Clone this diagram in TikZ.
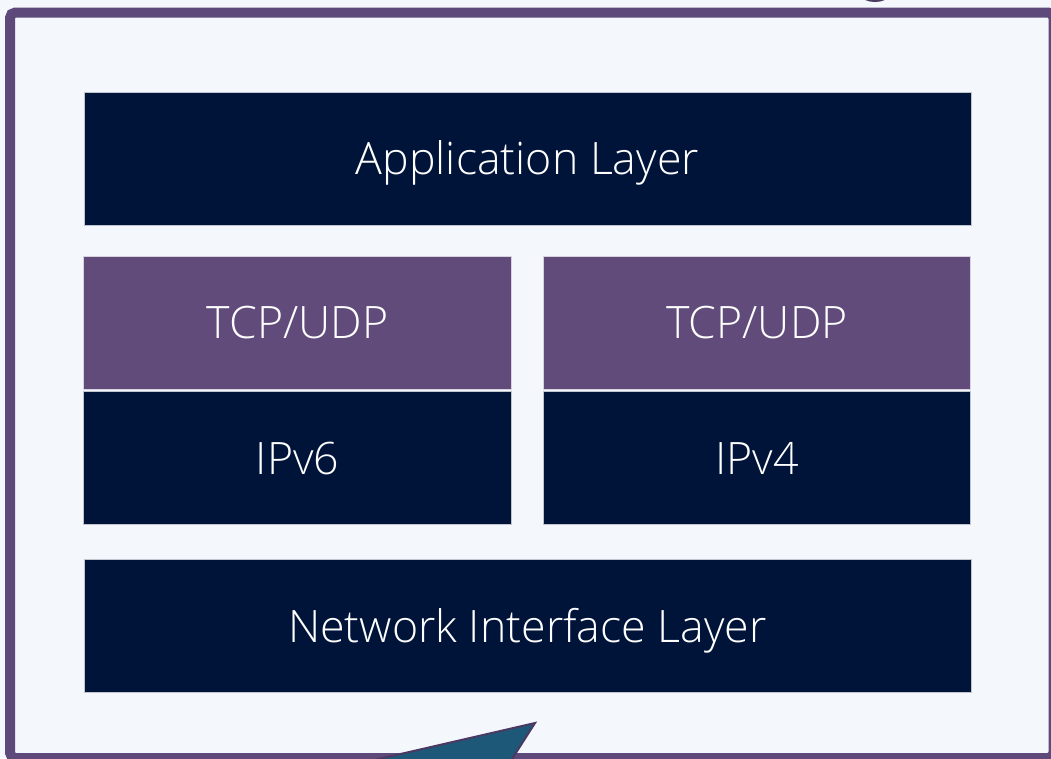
\documentclass[tikz,border=0pt]{standalone}
\usepackage{fontspec}
\setmainfont{Open Sans}[UprightFont=* Light]
\usetikzlibrary{positioning}

\definecolor{fond}{HTML}{F4F7FB}
\definecolor{cadre}{HTML}{5E4A7A}
\definecolor{marine}{HTML}{00143A}
\definecolor{violet}{HTML}{604B7B}
\definecolor{bulle}{HTML}{1E5878}
\definecolor{bord}{HTML}{4A3A63}

\tikzset{
  couche/.style={fill=marine, draw=white!75!marine, line width=0.6pt, text=white, inner sep=0pt,
    minimum height=99.75pt, text height=24pt, text depth=-3.8pt,
    font=\fontsize{33.5}{38}\selectfont},
  large/.style={minimum width=665.25pt},
  demi/.style={minimum width=320.5pt},
  transport/.style={fill=violet, draw=white!75!violet}
}

\begin{document}
\begin{tikzpicture}[x=0.75pt, y=-0.75pt]
  \useasboundingbox (0,0) rectangle (1051,758);

  % Fond et cadre
  \fill[fond] (0,0) rectangle (1051,758);
  \fill[cadre!80!black] (875,-4) ellipse (13 and 6);
  \draw[cadre, line width=7.5pt, rounded corners=4pt] (10,12.5) rectangle (1053.5,758);

  % Couches du haut et du bas
  \node[couche, large] (appli) at (527.5,158.5) {Application Layer};
  \node[couche, large] (reseau) at (527.5,626) {Network Interface Layer};

  % Double pile
  \foreach \x/\nom/\ip in {297.5/six/IPv6, 757/quatre/IPv4} {
    \node[couche, demi, transport] (tcp\nom) at (\x,322.5) {TCP/UDP};
    \node[couche, demi, below=1.5pt of tcp\nom] (ip\nom) {\ip};
  }

  % Bulle
  \coordinate (pointe) at (535,723);
  \filldraw[fill=bulle, draw=bord, line width=1.5pt, line join=miter]
    (pointe) -- (331,770) -- (505,770) -- cycle;
\end{tikzpicture}
\end{document}
